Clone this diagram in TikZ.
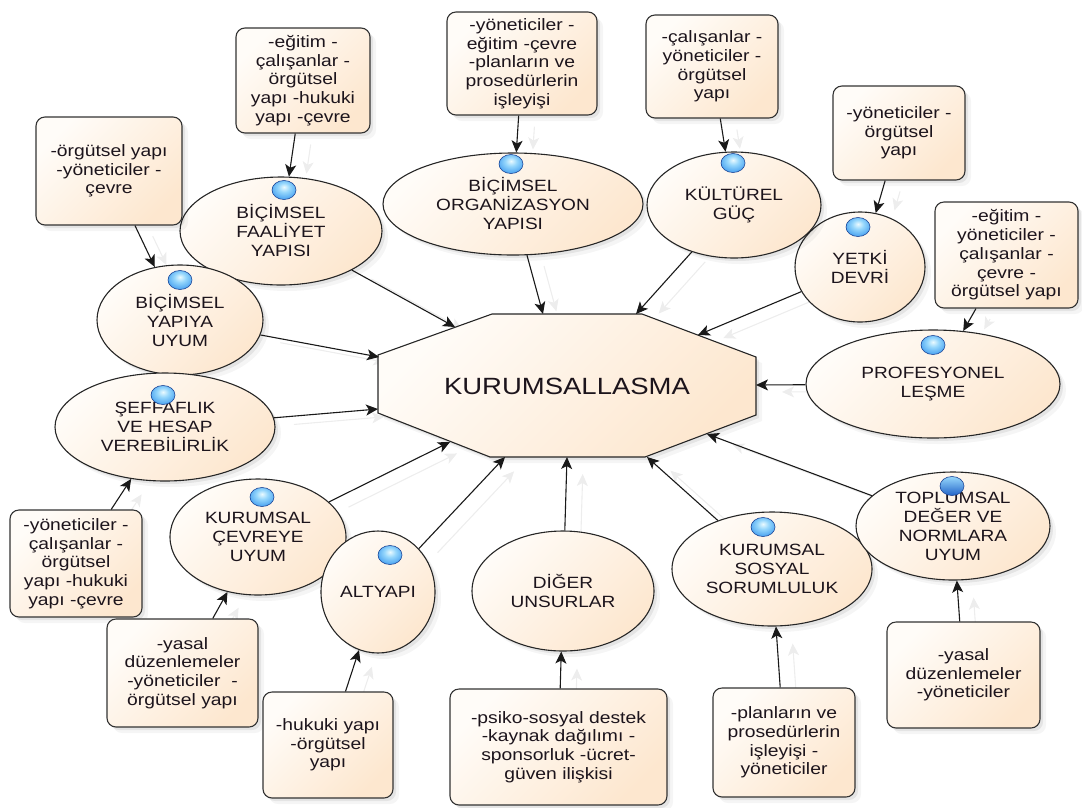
\documentclass[tikz,border=0pt]{standalone}
\usepackage{fontspec}
\setmainfont{Liberation Sans}[FakeStretch=1.17]
\usetikzlibrary{arrows.meta,shadows,shapes.geometric}

\definecolor{peachL}{RGB}{255,252,248}
\definecolor{peachD}{RGB}{253,231,207}
\definecolor{txt}{RGB}{28,20,28}
\definecolor{knobA}{RGB}{235,250,255}
\definecolor{knobB}{RGB}{150,215,252}
\definecolor{knobC}{RGB}{70,160,240}
\definecolor{knobD}{RGB}{35,100,200}
\definecolor{balledge}{RGB}{30,70,150}

% glossy marker shading, highlight a little above the middle
\pgfdeclareradialshading{knobshade}{\pgfpoint{0bp}{8bp}}{%
  color(0bp)=(knobA); color(12bp)=(knobB); color(30bp)=(knobC);
  color(44bp)=(knobD); color(70bp)=(knobD)}

\pgfdeclarelayer{bg}
\pgfsetlayers{bg,main}

\tikzset{
  soft/.style={
    drop shadow={shadow xshift=3pt,shadow yshift=-3pt,opacity=0.07,fill=black},
    drop shadow={shadow xshift=6pt,shadow yshift=-6pt,opacity=0.04,fill=black}},
  peach/.style={shading=axis, top color=peachL, bottom color=peachD, shading angle=45},
  bubble/.style={ellipse, draw=black!85, line width=1.1pt, peach, soft, text=txt,
    align=center, inner sep=0pt, font=\fontsize{16.3}{19}\selectfont},
  note/.style={rectangle, rounded corners=9pt, draw=black!80, line width=1.1pt, peach, soft,
    text=txt, align=center, inner sep=0pt, font=\fontsize{16.5}{18.7}\selectfont},
  arr/.style={-{Stealth[length=12pt,width=11pt,inset=3pt]}, line width=1.1pt, draw=black!90},
  ghost/.style={-{Stealth[length=12pt,width=11pt,inset=3pt]}, line width=1.1pt, draw=black!7,
    shorten >=10pt, shorten <=4pt},
  knob/.style={ellipse, minimum width=24pt, minimum height=19pt, inner sep=0pt,
    draw=balledge, line width=0.6pt, shading=knobshade},
}

\begin{document}
\begin{tikzpicture}[x=1pt,y=-1pt]
\useasboundingbox (0,0) rectangle (1082,807);

% central octagon
\coordinate (c1) at (492,314); \coordinate (c2) at (642,314);
\coordinate (c3) at (756,357); \coordinate (c4) at (756,415);
\coordinate (c5) at (645,457); \coordinate (c6) at (490,457);
\coordinate (c7) at (378,413); \coordinate (c8) at (378,355);
\path[draw=black!85, line width=1.1pt, peach, soft]
  (c1) -- (c2) -- (c3) -- (c4) -- (c5) -- (c6) -- (c7) -- (c8) -- cycle;
\node[text=txt, font=\fontsize{23.5}{26}\selectfont] (kur) at (567,386) {KURUMSALLASMA};

% arrow ends on the octagon
\coordinate (oFaal) at (455,327);
\coordinate (oOrg)  at (543,314);
\coordinate (oKult) at (636,314);
\coordinate (oYetk) at (698,335);
\coordinate (oYap)  at (379,357);
\coordinate (oSeff) at (378,409);
\coordinate (oProf) at (756,385);
\coordinate (oCev)  at (450,442);
\coordinate (oAlt)  at (505,457);
\coordinate (oDig)  at (567,457);
\coordinate (oSos)  at (647,457);
\coordinate (oTop)  at (707,434);

% factor ellipses
\node[bubble, minimum width=202pt, minimum height=108pt] (faal) at (281,231) {BİÇİMSEL\\FAALİYET\\YAPISI};
\node[bubble, minimum width=166pt, minimum height=110pt] (yap) at (180,320) {BİÇİMSEL\\YAPIYA\\UYUM};
\node[bubble, minimum width=220pt, minimum height=108pt] (seff) at (165,427) {ŞEFFAFLIK\\VE HESAP\\VEREBİLİRLİK};
\node[bubble, minimum width=176pt, minimum height=116pt] (cev) at (258,537) {KURUMSAL\\ÇEVREYE\\UYUM};
\node[bubble, minimum width=114pt, minimum height=122pt] (alt) at (378,592) {ALTYAPI};
\node[bubble, minimum width=182pt, minimum height=120pt] (dig) at (563,591) {DİĞER\\UNSURLAR};
\node[bubble, minimum width=200pt, minimum height=114pt] (sos) at (772,569) {KURUMSAL\\SOSYAL\\SORUMLULUK};
\node[bubble, minimum width=194pt, minimum height=108pt] (topl) at (953,526) {TOPLUMSAL\\DEĞER VE\\NORMLARA\\UYUM};
\node[bubble, minimum width=254pt, minimum height=108pt] (prof) at (933,384) {PROFESYONEL\\LEŞME};
\node[bubble, minimum width=130pt, minimum height=110pt] (yetk) at (860,267) {YETKİ\\DEVRİ};
\node[bubble, minimum width=174pt, minimum height=106pt] (kult) at (734,205) {KÜLTÜREL\\GÜÇ};
\node[bubble, minimum width=260pt, minimum height=102pt] (org) at (513,204) {BİÇİMSEL\\ORGANİZASYON\\YAPISI};

% notes
\node[note, minimum width=134pt, minimum height=105pt] (bA) at (303,80.5)  {-eğitim -\\çalışanlar -\\örgütsel\\yapı -hukuki\\yapı -çevre};
\node[note, minimum width=150pt, minimum height=103pt] (bB) at (522,63.5)  {-yöneticiler -\\eğitim -çevre\\-planların ve\\prosedürlerin\\işleyişi};
\node[note, minimum width=132pt, minimum height=103pt] (bC) at (712,66.5)  {-çalışanlar -\\yöneticiler -\\örgütsel\\yapı};
\node[note, minimum width=132pt, minimum height=94pt]  (bD) at (899,133)   {-yöneticiler -\\örgütsel\\yapı};
\node[note, minimum width=143pt, minimum height=106pt] (bE) at (1006.5,255) {-eğitim -\\yöneticiler -\\çalışanlar -\\çevre -\\örgütsel yapı};
\node[note, minimum width=146pt, minimum height=108pt] (bF) at (109,171)   {-örgütsel yapı\\-yöneticiler -\\çevre};
\node[note, minimum width=132pt, minimum height=107pt] (bG) at (76,563.5)  {-yöneticiler -\\çalışanlar -\\örgütsel\\yapı -hukuki\\yapı -çevre};
\node[note, minimum width=151pt, minimum height=108pt] (bH) at (182.5,673) {-yasal\\düzenlemeler\\-yöneticiler \ -\\örgütsel yapı};
\node[note, minimum width=130pt, minimum height=106pt] (bI) at (328,745)   {-hukuki yapı\\-örgütsel\\yapı};
\node[note, minimum width=217pt, minimum height=116pt] (bJ) at (558.5,747) {-psiko-sosyal destek\\-kaynak dağılımı -\\sponsorluk -ücret-\\güven ilişkisi};
\node[note, minimum width=142pt, minimum height=109pt] (bK) at (784,742.5) {-planların ve\\prosedürlerin\\işleyişi -\\yöneticiler};
\node[note, minimum width=153pt, minimum height=106pt] (bL) at (963.5,675) {-yasal\\düzenlemeler\\-yöneticiler};

% connectors
\def\links{bF/yap, bA/faal, bB/org, bC/kult, bD/yetk, bE/prof, bG/seff, bH/cev, bI/alt, bJ/dig, bK/sos, bL/topl,
  faal/oFaal, org/oOrg, kult/oKult, yetk/oYetk, yap/oYap, seff/oSeff, prof/oProf, cev/oCev, alt/oAlt, dig/oDig, sos/oSos, topl/oTop}

\begin{pgfonlayer}{bg}
  \begin{scope}[transform canvas={xshift=16pt,yshift=-7pt}]
    \foreach \a/\b in \links { \draw[ghost] (\a) -- (\b); }
  \end{scope}
\end{pgfonlayer}

\foreach \a/\b in \links { \draw[arr] (\a) -- (\b); }

% blue markers, on top of everything
\foreach \n/\p in {kFaal/{(284,190)}, kYap/{(180,280)}, kSeff/{(163,395)}, kCev/{(262,497)},
    kAlt/{(390,555)}, kSos/{(763,527)}, kProf/{(933,345)}, kYetk/{(858,227)},
    kKult/{(733,163)}, kOrg/{(511,164)}}
  { \node[knob] (\n) at \p {}; }
\node[knob, shading=axis, top color=knobB, bottom color=knobD] (kTopl) at (952,486) {};

\end{tikzpicture}
\end{document}
